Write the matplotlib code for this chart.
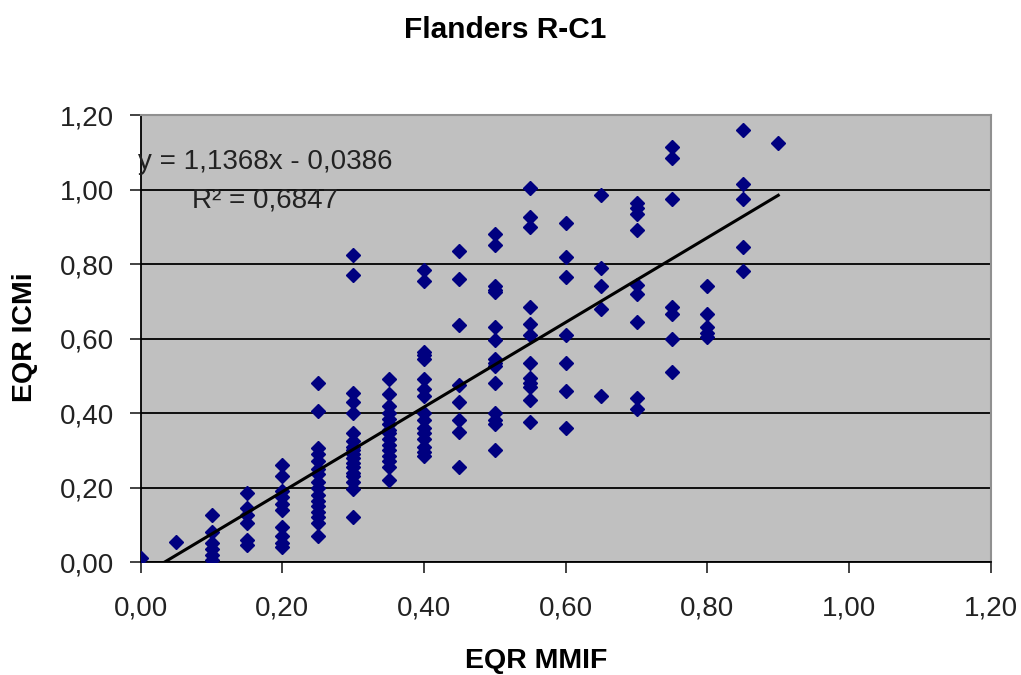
import matplotlib.pyplot as plt
from matplotlib.ticker import MultipleLocator, FuncFormatter

plt.rcParams['font.family'] = ['Liberation Sans', 'DejaVu Sans']

# EQR MMIF (x) et EQR ICMi (y), une ligne par colonne de points
eqr_mmif = (
    [0.00]
    + [0.05]
    + [0.10] * 6
    + [0.15] * 6
    + [0.20] * 10
    + [0.25] * 16
    + [0.30] * 18
    + [0.35] * 15
    + [0.40] * 16
    + [0.45] * 8
    + [0.50] * 15
    + [0.55] * 12
    + [0.60] * 7
    + [0.65] * 5
    + [0.70] * 9
    + [0.75] * 7
    + [0.80] * 5
    + [0.85] * 5
    + [0.90]
)
eqr_icmi = (
    [0.01]
    + [0.055]
    + [0.125, 0.08, 0.05, 0.035, 0.02, 0.005]
    + [0.185, 0.145, 0.125, 0.105, 0.06, 0.045]
    + [0.26, 0.23, 0.19, 0.175, 0.155, 0.14, 0.095, 0.07, 0.05, 0.04]
    + [0.48, 0.405, 0.305, 0.29, 0.27, 0.25, 0.235, 0.215, 0.2, 0.18,
       0.165, 0.15, 0.135, 0.12, 0.105, 0.07]
    + [0.825, 0.77, 0.455, 0.43, 0.40, 0.345, 0.325, 0.31, 0.30, 0.29,
       0.28, 0.265, 0.255, 0.24, 0.23, 0.215, 0.195, 0.12]
    + [0.49, 0.45, 0.42, 0.40, 0.385, 0.37, 0.355, 0.345, 0.33, 0.315,
       0.30, 0.285, 0.27, 0.255, 0.22]
    + [0.785, 0.755, 0.565, 0.555, 0.545, 0.49, 0.465, 0.445, 0.40, 0.38,
       0.36, 0.345, 0.33, 0.31, 0.295, 0.285]
    + [0.835, 0.76, 0.635, 0.475, 0.43, 0.38, 0.35, 0.255]
    + [0.88, 0.85, 0.74, 0.73, 0.725, 0.63, 0.595, 0.545, 0.535, 0.525,
       0.48, 0.40, 0.38, 0.37, 0.30]
    + [1.005, 0.925, 0.90, 0.685, 0.64, 0.61, 0.535, 0.495, 0.48, 0.47,
       0.435, 0.375]
    + [0.91, 0.82, 0.765, 0.61, 0.535, 0.46, 0.36]
    + [0.985, 0.79, 0.74, 0.68, 0.445]
    + [0.965, 0.95, 0.935, 0.89, 0.745, 0.72, 0.645, 0.44, 0.41]
    + [1.115, 1.085, 0.975, 0.685, 0.665, 0.60, 0.51]
    + [0.74, 0.665, 0.63, 0.615, 0.605]
    + [1.16, 1.015, 0.975, 0.845, 0.78]
    + [1.125]
)

# Courbe de tendance (Excel)
pente = 1.1368
ordonnee = -0.0386
r2 = 0.6847

fig = plt.figure(figsize=(10.21, 6.75), dpi=100)
ax = fig.add_axes([0.1378, 0.1674, 0.8326, 0.6622])
ax.set_facecolor('#c0c0c0')

ax.plot(eqr_mmif, eqr_icmi, linestyle='none', marker='D', markersize=7.2,
        color='#000080', zorder=3)

x_debut = -ordonnee / pente
x_fin = max(eqr_mmif)
ax.plot([x_debut, x_fin], [pente * x_debut + ordonnee, pente * x_fin + ordonnee],
        color='black', linewidth=2.2, zorder=4)

ax.set_xlim(0, 1.2)
ax.set_ylim(0, 1.2)
ax.xaxis.set_major_locator(MultipleLocator(0.2))
ax.yaxis.set_major_locator(MultipleLocator(0.2))
fmt = FuncFormatter(lambda v, p: f"{v:.2f}".replace('.', ','))
ax.xaxis.set_major_formatter(fmt)
ax.yaxis.set_major_formatter(fmt)
ax.tick_params(labelsize=20, length=8, width=1.2, colors='#222222')
ax.tick_params(axis='x', pad=16)
ax.tick_params(axis='y', pad=11)
ax.grid(axis='y', color='black', linewidth=1.3)
ax.set_axisbelow(True)

for s in ['top', 'right']:
    ax.spines[s].set_color('#909090')
    ax.spines[s].set_linewidth(1.5)
for s in ['left', 'bottom']:
    ax.spines[s].set_color('black')
    ax.spines[s].set_linewidth(1.3)

eq = f"y = {pente:.4f}x - {abs(ordonnee):.4f}".replace('.', ',')
ax.text(-0.004, 1.074, eq, fontsize=20, va='center', ha='left', clip_on=False,
        color='#222222', zorder=5)
ax.text(0.073, 0.971, f"R² = {r2:.4f}".replace('.', ','), fontsize=20,
        va='center', ha='left', color='#222222', zorder=5)

fig.suptitle("Flanders R-C1", fontsize=21.5, fontweight='bold', x=0.495, y=0.976)
ax.set_xlabel("EQR MMIF", fontsize=20.5, fontweight='bold')
ax.set_ylabel("EQR ICMi", fontsize=20.5, fontweight='bold')
ax.xaxis.set_label_coords(0.465, -0.222)
ax.yaxis.set_label_coords(-0.136, 0.502)
ax.xaxis.label.set_va('center')
ax.yaxis.label.set_va('center')

fig.savefig("out.png", dpi=100)
